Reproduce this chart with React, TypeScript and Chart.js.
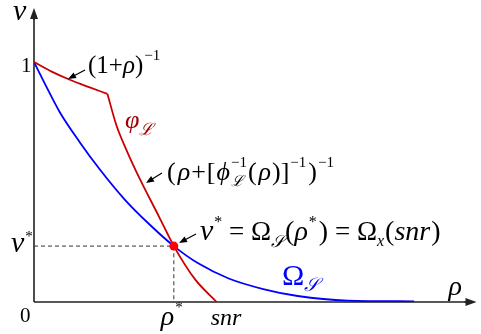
import { useEffect, useRef } from 'react';
import { Chart, registerables } from 'chart.js';
Chart.register(...registerables);

// Ω_S curve
const rhoBlue = [0, 0.25, 0.58, 1.03, 1.48, 2.04, 2.6, 3.16, 3.72, 4.4, 5.18, 5.96, 7.09, 8.59];
const vBlue = [1.0, 0.908, 0.792, 0.667, 0.554, 0.429, 0.325, 0.233, 0.16, 0.098, 0.054, 0.025, 0.006, 0.003];
// φ_L curve, upper branch (1+ρ)^-1
const rhoRedUpper = [0, 0.4, 0.81, 1.26, 1.66];
const vRedUpper = [1.0, 0.96, 0.926, 0.894, 0.867];
// φ_L curve, lower branch
const rhoRedLower = [1.66, 1.86, 2.09, 2.38, 2.83, 3.16, 3.65, 4.13];
const vRedLower = [0.867, 0.7375, 0.633, 0.517, 0.354, 0.233, 0.092, 0];
// fixed point
const rhoStar = 3.16;
const vStar = 0.233;
const snr = 4.13;
const xMax = 10;
const yMax = 1.225;

const SERIF = '"Liberation Serif", "Times New Roman", serif';

type Run = { t: string; size: number; italic?: boolean; dy?: number; dx?: number; color?: string; noAdvance?: boolean; fam?: string };

function drawRuns(ctx: CanvasRenderingContext2D, x: number, y: number, runs: Run[]) {
  let cx = x;
  for (const r of runs) {
    ctx.font = `${r.italic ? 'italic ' : ''}${r.size}px ${r.fam || SERIF}`;
    ctx.fillStyle = r.color || '#000';
    cx += r.dx || 0;
    ctx.fillText(r.t, cx, y + (r.dy || 0));
    if (!r.noAdvance) cx += ctx.measureText(r.t).width;
  }
}

function arrow(ctx: CanvasRenderingContext2D, x1: number, y1: number, x2: number, y2: number, len = 8, hw = 3.2, color = '#000', lw = 1.2) {
  const a = Math.atan2(y2 - y1, x2 - x1);
  ctx.save();
  ctx.strokeStyle = color;
  ctx.fillStyle = color;
  ctx.lineWidth = lw;
  ctx.beginPath();
  ctx.moveTo(x1, y1);
  ctx.lineTo(x2 - Math.cos(a) * len * 0.8, y2 - Math.sin(a) * len * 0.8);
  ctx.stroke();
  ctx.beginPath();
  ctx.moveTo(x2, y2);
  ctx.lineTo(x2 - Math.cos(a) * len - Math.sin(a) * hw, y2 - Math.sin(a) * len + Math.cos(a) * hw);
  ctx.lineTo(x2 - Math.cos(a) * len + Math.sin(a) * hw, y2 - Math.sin(a) * len - Math.cos(a) * hw);
  ctx.closePath();
  ctx.fill();
  ctx.restore();
}

const decorPlugin = {
  id: 'decor',
  beforeDatasetsDraw(chart: any) {
    const ctx: CanvasRenderingContext2D = chart.ctx;
    const xs = chart.scales.x;
    const ys = chart.scales.y;
    const x0 = xs.getPixelForValue(0);
    const y0 = ys.getPixelForValue(0);
    const xEnd = xs.getPixelForValue(xMax);
    const yTop = ys.getPixelForValue(yMax);
    ctx.save();
    ctx.strokeStyle = '#222';
    ctx.lineWidth = 1.6;
    ctx.beginPath();
    ctx.moveTo(x0, y0);
    ctx.lineTo(xEnd - 6, y0);
    ctx.moveTo(x0, y0);
    ctx.lineTo(x0, yTop + 6);
    ctx.stroke();
    ctx.restore();
    arrow(ctx, xEnd - 12, y0, xEnd, y0, 11, 4, '#222', 1.6);
    arrow(ctx, x0, yTop + 12, x0, yTop, 11, 4, '#222', 1.6);
  },
  afterDraw(chart: any) {
    const ctx: CanvasRenderingContext2D = chart.ctx;
    const xs = chart.scales.x;
    const ys = chart.scales.y;
    const x0 = xs.getPixelForValue(0);
    const y0 = ys.getPixelForValue(0);
    const xEnd = xs.getPixelForValue(xMax);
    const y1 = ys.getPixelForValue(1);
    const xr = xs.getPixelForValue(rhoStar);
    const yv = ys.getPixelForValue(vStar);
    const xsnr = xs.getPixelForValue(snr);
    ctx.save();
    ctx.textBaseline = 'alphabetic';
    ctx.textAlign = 'left';
    // axis labels
    drawRuns(ctx, 13, 20, [{ t: 'v', size: 30, italic: true }]);
    drawRuns(ctx, xEnd - 28, y0 - 7, [{ t: 'ρ', size: 28, italic: true }]);
    // tick-like labels
    drawRuns(ctx, x0 - 13, y1 + 10, [{ t: '1', size: 21 }]);
    drawRuns(ctx, x0 - 14, y0 + 20, [{ t: '0', size: 21 }]);
    drawRuns(ctx, 11, yv + 6, [
      { t: 'v', size: 30, italic: true },
      { t: '*', size: 15, dy: -11, dx: 1 },
    ]);
    drawRuns(ctx, xr - 13, y0 + 23, [
      { t: 'ρ', size: 28, italic: true },
      { t: '*', size: 15, dy: -13, dx: 1 },
    ]);
    drawRuns(ctx, xsnr - 6, y0 + 23, [{ t: 'snr', size: 24, italic: true }]);
    // (1+ρ)^-1
    drawRuns(ctx, 88, 73, [
      { t: '(1+', size: 25 },
      { t: 'ρ', size: 25, italic: true },
      { t: ')', size: 25 },
      { t: '−1', size: 15, dy: -13, dx: 1 },
    ]);
    // φ_L label
    drawRuns(ctx, 125, 128, [
      { t: 'φ', size: 26, italic: true, color: '#a00000' },
      { t: 'ℒ', size: 17, italic: true, dy: 7, color: '#a00000' },
    ]);
    // (ρ+[ϕ_L^-1(ρ)]^-1)^-1
    drawRuns(ctx, 167, 180, [
      { t: '(', size: 26 },
      { t: 'ρ', size: 26, italic: true, dx: 2 },
      { t: '+', size: 26, dx: 1 },
      { t: '[', size: 26, dx: 1 },
      { t: 'ϕ', size: 26, italic: true, dx: 1 },
      { t: '−1', size: 15, dy: -13, noAdvance: true, dx: 1 },
      { t: 'ℒ', size: 15, italic: true, dy: 6 },
      { t: '(', size: 26, dx: 5 },
      { t: 'ρ', size: 26, italic: true, dx: 2 },
      { t: ')', size: 26, dx: 1 },
      { t: ']', size: 26 },
      { t: '−1', size: 15, dy: -13, dx: 1 },
      { t: ')', size: 26, dx: 2 },
      { t: '−1', size: 15, dy: -13, dx: 1 },
    ]);
    // v* = Ω_S(ρ*) = Ω_x(snr)
    drawRuns(ctx, 200, 240, [
      { t: 'v', size: 30, italic: true },
      { t: '*', size: 16, dy: -13, dx: 1 },
      { t: ' = ', size: 27 },
      { t: 'Ω', size: 27 },
      { t: '𝒮', size: 17, italic: true, dy: 7 },
      { t: '(', size: 28, dx: 1 },
      { t: 'ρ', size: 28, italic: true },
      { t: '*', size: 16, dy: -13, dx: 1 },
      { t: ')', size: 28, dx: 2 },
      { t: ' = ', size: 27 },
      { t: 'Ω', size: 27 },
      { t: 'x', size: 16, italic: true, dy: 6 },
      { t: '(', size: 28, dx: 1 },
      { t: 'snr', size: 28, italic: true },
      { t: ')', size: 28, dx: 1 },
    ]);
    // Ω_S label
    drawRuns(ctx, 282, 285, [
      { t: 'Ω', size: 30, color: '#0000ff' },
      { t: '𝒮', size: 19, italic: true, dy: 6, color: '#0000ff' },
    ]);
    ctx.restore();
    // pointer arrows
    arrow(ctx, 85, 70, 68, 79);
    arrow(ctx, 162, 173, 146, 183);
    arrow(ctx, 196, 234, 179, 243);
  },
};

export default function App() {
  const ref = useRef<HTMLCanvasElement | null>(null);
  useEffect(() => {
    if (!ref.current) return;
    const pts = (xsArr: number[], ysArr: number[]) => xsArr.map((x, i) => ({ x, y: ysArr[i] }));
    const chart = new Chart(ref.current, {
      type: 'line',
      data: {
        datasets: [
          {
            label: 'guide',
            data: [
              { x: 0, y: vStar },
              { x: rhoStar, y: vStar },
              { x: rhoStar, y: 0 },
            ],
            borderColor: '#333',
            borderWidth: 1,
            borderDash: [4, 3],
            pointRadius: 0,
            tension: 0,
            order: 5,
          },
          {
            label: 'Ω_S',
            data: pts(rhoBlue, vBlue),
            borderColor: '#0000ff',
            borderWidth: 1.8,
            pointRadius: 0,
            cubicInterpolationMode: 'monotone',
            order: 3,
          },
          {
            label: 'φ_L upper',
            data: pts(rhoRedUpper, vRedUpper),
            borderColor: '#cc0000',
            borderWidth: 1.8,
            pointRadius: 0,
            cubicInterpolationMode: 'monotone',
            order: 2,
          },
          {
            label: 'φ_L lower',
            data: pts(rhoRedLower, vRedLower),
            borderColor: '#cc0000',
            borderWidth: 1.8,
            pointRadius: 0,
            cubicInterpolationMode: 'monotone',
            order: 2,
          },
          {
            type: 'scatter',
            label: 'v*',
            data: [{ x: rhoStar, y: vStar }],
            backgroundColor: '#ff0000',
            borderWidth: 0,
            pointRadius: 4.5,
            showLine: false,
            order: 0,
          } as any,
        ],
      },
      options: {
        responsive: false,
        animation: false,
        events: [],
        layout: { padding: { left: 34, right: 1, top: 8, bottom: 32 } },
        plugins: { legend: { display: false }, tooltip: { enabled: false } },
        scales: {
          x: { type: 'linear', min: 0, max: xMax, display: false },
          y: { type: 'linear', min: 0, max: yMax, display: false },
        },
      },
      plugins: [decorPlugin],
    });
    return () => chart.destroy();
  }, []);
  return (
    <div style={{ position: 'fixed', left: 0, top: 0, width: 481, height: 334, background: '#fff' }}>
      <canvas ref={ref} width={481} height={334} />
    </div>
  );
}
